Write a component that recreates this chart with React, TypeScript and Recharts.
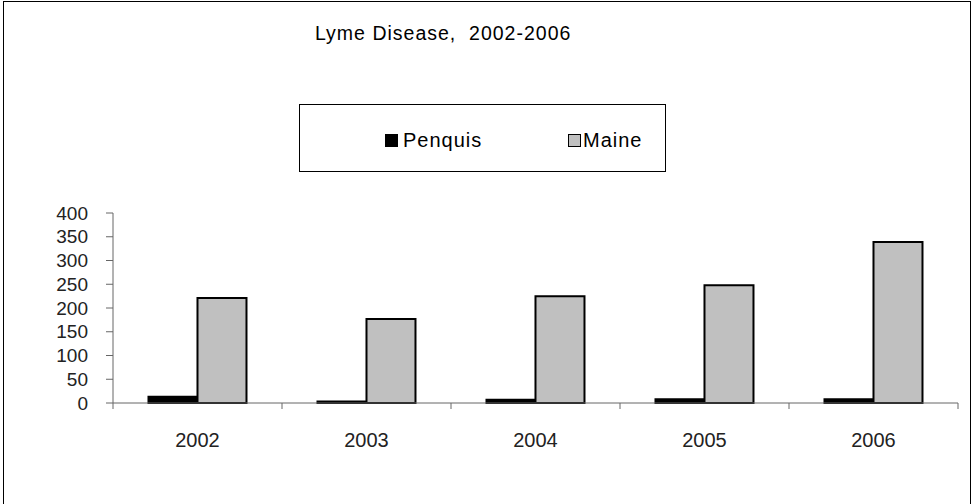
import React from 'react';
import { BarChart, Bar, XAxis, YAxis } from 'recharts';

const categories = ['2002', '2003', '2004', '2005', '2006'];
const penquis = [13, 3, 7, 8, 8];
const maine = [221, 177, 225, 248, 339];
const yTicks = [0, 50, 100, 150, 200, 250, 300, 350, 400];

const data = categories.map((year, i) => ({ year, Penquis: penquis[i], Maine: maine[i] }));

const FONT = '"Liberation Sans", Arial, sans-serif';
const BAND = 169;

const XTick = (props: any) => {
  const { x, y, payload, index } = props;
  const half = BAND / 2;
  return (
    <g>
      <line x1={x - half} y1={y} x2={x - half} y2={y + 6} stroke="#666" />
      {index === categories.length - 1 && (
        <line x1={x + half} y1={y} x2={x + half} y2={y + 6} stroke="#666" />
      )}
      <text x={x} y={y + 44} textAnchor="middle" fontFamily={FONT} fontSize={20} fill="#222">
        {payload.value}
      </text>
    </g>
  );
};

const LegendBox = () => (
  <div
    style={{
      position: 'absolute',
      left: 299,
      top: 104,
      width: 365,
      height: 66,
      border: '1px solid #000',
      background: '#fff',
      fontFamily: FONT,
      fontSize: 20,
      letterSpacing: 1,
      color: '#000',
    }}
  >
    <div style={{ position: 'absolute', left: 85, top: 29, width: 13, height: 13, background: '#000' }} />
    <div style={{ position: 'absolute', left: 103, top: 25, lineHeight: '20px' }}>Penquis</div>
    <div
      style={{
        position: 'absolute',
        left: 268,
        top: 29,
        width: 13,
        height: 13,
        background: '#c0c0c0',
        border: '1.5px solid #000',
        boxSizing: 'border-box',
      }}
    />
    <div style={{ position: 'absolute', left: 283, top: 25, lineHeight: '20px' }}>Maine</div>
  </div>
);

export default function App() {
  return (
    <div style={{ position: 'absolute', left: 0, top: 0, width: 975, height: 504, background: '#fff', overflow: 'hidden' }}>
      <div
        style={{
          position: 'absolute',
          left: 3,
          top: 1,
          width: 968,
          height: 520,
          border: '1px solid #000',
          boxSizing: 'border-box',
        }}
      />
      <div
        style={{
          position: 'absolute',
          left: 315,
          top: 24,
          fontFamily: FONT,
          fontSize: 19.5,
          lineHeight: '19.5px',
          letterSpacing: 1,
          color: '#000',
          whiteSpace: 'pre',
        }}
      >
        {'Lyme Disease,  2002-2006'}
      </div>
      <LegendBox />
      <div style={{ position: 'absolute', left: 0, top: 0 }}>
        <BarChart
          width={975}
          height={504}
          data={data}
          margin={{ top: 213, right: 17, bottom: 71, left: 0 }}
          barCategoryGap="21%"
          barGap={0}
        >
          <XAxis
            dataKey="year"
            height={30}
            stroke="#666"
            tickLine={false}
            tickSize={0}
            tickMargin={0}
            tick={<XTick />}
            interval={0}
          />
          <YAxis
            width={113}
            domain={[0, 400]}
            ticks={yTicks}
            interval={0}
            stroke="#666"
            tickSize={7}
            tickMargin={18}
            tick={{ fontFamily: FONT, fontSize: 19, fill: '#222' }}
          />
          <Bar dataKey="Penquis" fill="#000" stroke="#000" strokeWidth={2} isAnimationActive={false} />
          <Bar dataKey="Maine" fill="#c0c0c0" stroke="#000" strokeWidth={2} isAnimationActive={false} />
        </BarChart>
      </div>
    </div>
  );
}
